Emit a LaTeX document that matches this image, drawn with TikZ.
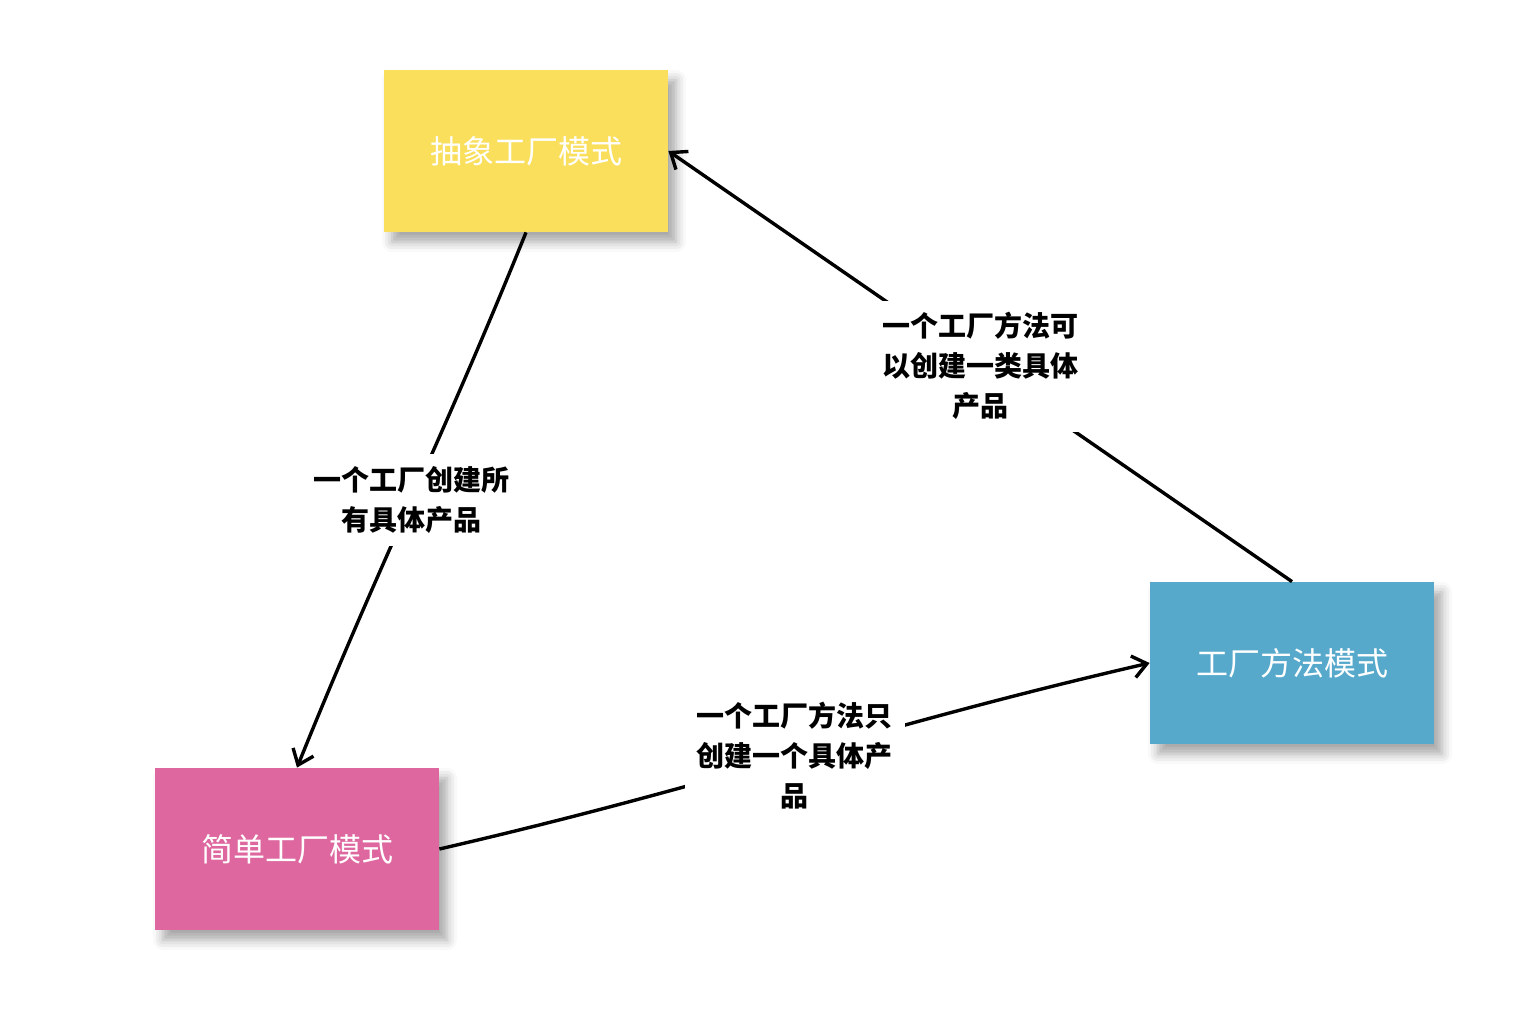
\documentclass[tikz,border=0pt]{standalone}
\usepackage{fontspec}
\newfontfamily\cjk{Noto Sans CJK SC}
\usetikzlibrary{arrows.meta,shadows.blur}
\definecolor{absyellow}{HTML}{F9DF5C}
\definecolor{simplepink}{HTML}{DE679F}
\definecolor{methodblue}{HTML}{57A9CC}
\begin{document}
\begin{tikzpicture}[x=0.5pt, y=0.5pt,
  patternbox/.style={rectangle, minimum width=142pt, minimum height=81pt, inner sep=0pt, text=white,
    font=\cjk\fontsize{16}{20}\selectfont,
    blur shadow={shadow xshift=4pt, shadow yshift=-5pt, shadow blur radius=5pt, shadow opacity=35}},
  edgelabel/.style={fill=white, inner sep=6pt, align=center, font=\cjk\bfseries\fontsize{14}{20}\selectfont},
  relation/.style={line width=1.7pt, -{Straight Barb[length=7pt,width=11pt,line width=1.7pt]}}]
        \useasboundingbox (0,0) rectangle (1540,-1016);
        % the three patterns
        \node[patternbox, fill=absyellow] (abstract) at (526,-151) {抽象工厂模式};
        \node[patternbox, fill=simplepink] (simple) at (297,-849) {简单工厂模式};
        \node[patternbox, fill=methodblue] (method) at (1292,-663) {工厂方法模式};
        % relations
        \draw[relation] (abstract.south) to[out=-112, in=68] node[edgelabel] {一个工厂创建所\\有具体产品} (simple.north);
        \draw[relation] (method.north) -- node[edgelabel] {一个工厂方法可\\以创建一类具体\\产品} (abstract.east);
        \draw[relation] (simple.east) to[out=13, in=193] node[edgelabel] {一个工厂方法只\\创建一个具体产\\品} (method.west);
      \end{tikzpicture}
\end{document}
